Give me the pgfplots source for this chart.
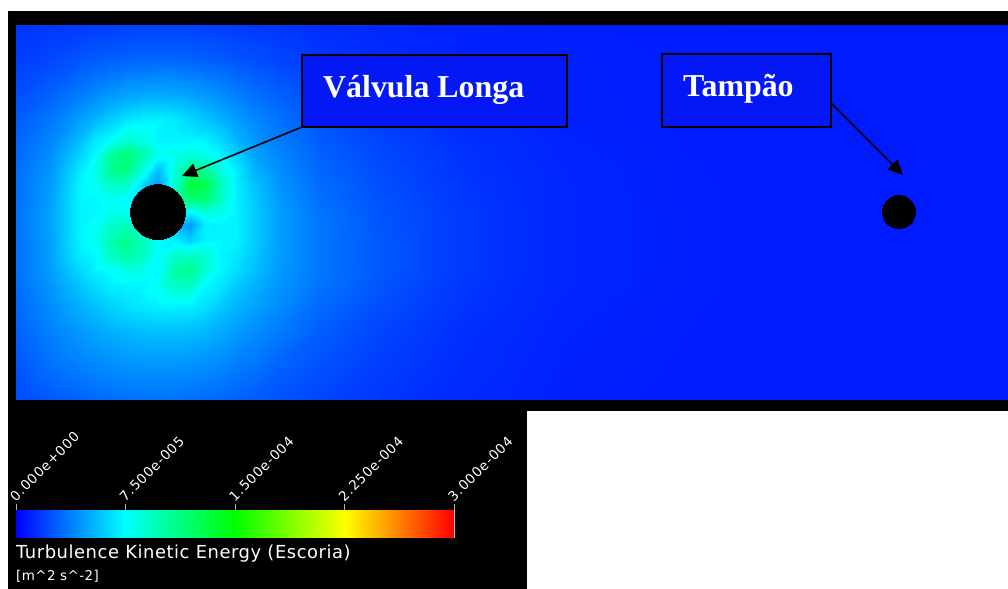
\documentclass[border=0pt]{standalone}
\usepackage{fontspec}
\setmainfont{Liberation Serif}
\newfontfamily\cbfont[LetterSpace=3]{DejaVu Sans}
\newfontfamily\cbtick[LetterSpace=6]{DejaVu Sans}
\usepackage{pgfplots}
\pgfplotsset{compat=1.18}
\usetikzlibrary{arrows.meta}
\pgfplotsset{colormap={ansys}{rgb255(0)=(0,0,255) rgb255(1)=(0,255,255) rgb255(2)=(0,255,0) rgb255(3)=(255,255,0) rgb255(4)=(255,0,0)}}
\definecolor{boxblue}{RGB}{4,24,245}
\begin{document}
\begin{tikzpicture}
\path[use as bounding box, fill=white] (0,0) rectangle (1008bp,-589bp);
\fill[black] (8bp,-11bp) rectangle (1008bp,-411bp);
\fill[black] (8bp,-411bp) rectangle (527bp,-589bp);
\begin{axis}[at={(16bp,-399bp)}, anchor=south west, scale only axis,
  width=992bp, height=374bp, xmin=16, xmax=1008, ymin=25, ymax=399,
  y dir=reverse, hide axis, clip=false, colormap name=ansys,
  point meta min=0, point meta max=3]
\addplot[surf, shader=interp, mesh/cols=23, point meta=explicit] coordinates {
(16,25)[0.15] (50,25)[0.16] (80,25)[0.17] (95,25)[0.18] (110,25)[0.18] (125,25)[0.19] (140,25)[0.19] (158,25)[0.19] (175,25)[0.19] (190,25)[0.19] (205,25)[0.18] (220,25)[0.18] (235,25)[0.17] (255,25)[0.16] (280,25)[0.15] (320,25)[0.13] (380,25)[0.11] (460,25)[0.095] (560,25)[0.088] (680,25)[0.082] (800,25)[0.078] (900,25)[0.076] (1008,25)[0.076]
(16,60)[0.18] (50,60)[0.21] (80,60)[0.25] (95,60)[0.27] (110,60)[0.28] (125,60)[0.29] (140,60)[0.3] (158,60)[0.3] (175,60)[0.3] (190,60)[0.29] (205,60)[0.28] (220,60)[0.27] (235,60)[0.25] (255,60)[0.23] (280,60)[0.2] (320,60)[0.16] (380,60)[0.125] (460,60)[0.1] (560,60)[0.092] (680,60)[0.085] (800,60)[0.08] (900,60)[0.077] (1008,60)[0.077]
(16,95)[0.23] (50,95)[0.29] (80,95)[0.37] (95,95)[0.41] (110,95)[0.45] (125,95)[0.48] (140,95)[0.5] (158,95)[0.51] (175,95)[0.5] (190,95)[0.48] (205,95)[0.45] (220,95)[0.42] (235,95)[0.38] (255,95)[0.33] (280,95)[0.28] (320,95)[0.21] (380,95)[0.15] (460,95)[0.11] (560,95)[0.094] (680,95)[0.085] (800,95)[0.08] (900,95)[0.077] (1008,95)[0.077]
(16,120)[0.27] (50,120)[0.35] (80,120)[0.47] (95,120)[0.54] (110,120)[0.61] (125,120)[0.67] (140,120)[0.71] (158,120)[0.72] (175,120)[0.69] (190,120)[0.64] (205,120)[0.58] (220,120)[0.53] (235,120)[0.47] (255,120)[0.4] (280,120)[0.33] (320,120)[0.25] (380,120)[0.17] (460,120)[0.12] (560,120)[0.096] (680,120)[0.085] (800,120)[0.08] (900,120)[0.077] (1008,120)[0.077]
(16,140)[0.29] (50,140)[0.39] (80,140)[0.56] (95,140)[0.69] (110,140)[0.75] (125,140)[0.89] (140,140)[0.84] (158,140)[0.72] (175,140)[0.72] (190,140)[0.72] (205,140)[0.71] (220,140)[0.64] (235,140)[0.54] (255,140)[0.44] (280,140)[0.36] (320,140)[0.27] (380,140)[0.2] (460,140)[0.14] (560,140)[0.1] (680,140)[0.086] (800,140)[0.08] (900,140)[0.077] (1008,140)[0.077]
(16,155)[0.31] (50,155)[0.42] (80,155)[0.63] (95,155)[0.74] (110,155)[1.03] (125,155)[1.15] (140,155)[1.02] (158,155)[0.79] (175,155)[0.82] (190,155)[0.86] (205,155)[0.8] (220,155)[0.72] (235,155)[0.62] (255,155)[0.48] (280,155)[0.39] (320,155)[0.29] (380,155)[0.21] (460,155)[0.15] (560,155)[0.104] (680,155)[0.087] (800,155)[0.08] (900,155)[0.078] (1008,155)[0.078]
(16,170)[0.32] (50,170)[0.44] (80,170)[0.69] (95,170)[0.81] (110,170)[1.06] (125,170)[1.14] (140,170)[0.9] (158,170)[0.56] (175,170)[0.87] (190,170)[1.14] (205,170)[1.07] (220,170)[0.85] (235,170)[0.71] (255,170)[0.52] (280,170)[0.41] (320,170)[0.3] (380,170)[0.22] (460,170)[0.15] (560,170)[0.108] (680,170)[0.088] (800,170)[0.08] (900,170)[0.078] (1008,170)[0.078]
(16,185)[0.33] (50,185)[0.46] (80,185)[0.72] (95,185)[0.77] (110,185)[0.89] (125,185)[0.91] (140,185)[0.68] (158,185)[0.45] (175,185)[0.89] (190,185)[1.335] (205,185)[1.28] (220,185)[0.97] (235,185)[0.72] (255,185)[0.57] (280,185)[0.43] (320,185)[0.32] (380,185)[0.23] (460,185)[0.16] (560,185)[0.11] (680,185)[0.089] (800,185)[0.08] (900,185)[0.078] (1008,185)[0.078]
(16,200)[0.33] (50,200)[0.47] (80,200)[0.72] (95,200)[0.73] (110,200)[0.78] (125,200)[0.75] (140,200)[0.72] (158,200)[0.7] (175,200)[0.92] (190,200)[1.14] (205,200)[1.15] (220,200)[0.94] (235,200)[0.72] (255,200)[0.59] (280,200)[0.45] (320,200)[0.33] (380,200)[0.24] (460,200)[0.16] (560,200)[0.11] (680,200)[0.09] (800,200)[0.08] (900,200)[0.078] (1008,200)[0.078]
(16,212)[0.33] (50,212)[0.48] (80,212)[0.72] (95,212)[0.73] (110,212)[0.8] (125,212)[0.79] (140,212)[0.72] (158,212)[0.7] (175,212)[0.77] (190,212)[0.73] (205,212)[0.87] (220,212)[0.83] (235,212)[0.72] (255,212)[0.6] (280,212)[0.46] (320,212)[0.34] (380,212)[0.25] (460,212)[0.17] (560,212)[0.11] (680,212)[0.09] (800,212)[0.08] (900,212)[0.078] (1008,212)[0.078]
(16,225)[0.33] (50,225)[0.48] (80,225)[0.72] (95,225)[0.77] (110,225)[0.9] (125,225)[0.95] (140,225)[0.85] (158,225)[0.7] (175,225)[0.55] (190,225)[0.45] (205,225)[0.7] (220,225)[0.72] (235,225)[0.72] (255,225)[0.6] (280,225)[0.46] (320,225)[0.35] (380,225)[0.25] (460,225)[0.17] (560,225)[0.11] (680,225)[0.09] (800,225)[0.08] (900,225)[0.078] (1008,225)[0.078]
(16,240)[0.33] (50,240)[0.47] (80,240)[0.72] (95,240)[0.79] (110,240)[0.98] (125,240)[1.1] (140,240)[0.97] (158,240)[0.76] (175,240)[0.7] (190,240)[0.6] (205,240)[0.72] (220,240)[0.72] (235,240)[0.72] (255,240)[0.6] (280,240)[0.46] (320,240)[0.35] (380,240)[0.26] (460,240)[0.17] (560,240)[0.11] (680,240)[0.09] (800,240)[0.08] (900,240)[0.078] (1008,240)[0.078]
(16,255)[0.33] (50,255)[0.47] (80,255)[0.7] (95,255)[0.73] (110,255)[0.92] (125,255)[1.01] (140,255)[0.97] (158,255)[0.74] (175,255)[0.92] (190,255)[0.93] (205,255)[0.87] (220,255)[0.72] (235,255)[0.69] (255,255)[0.58] (280,255)[0.46] (320,255)[0.35] (380,255)[0.26] (460,255)[0.17] (560,255)[0.11] (680,255)[0.09] (800,255)[0.08] (900,255)[0.078] (1008,255)[0.078]
(16,270)[0.33] (50,270)[0.46] (80,270)[0.64] (95,270)[0.72] (110,270)[0.74] (125,270)[0.83] (140,270)[0.84] (158,270)[0.74] (175,270)[1.03] (190,270)[1.07] (205,270)[0.9] (220,270)[0.72] (235,270)[0.66] (255,270)[0.56] (280,270)[0.45] (320,270)[0.35] (380,270)[0.26] (460,270)[0.17] (560,270)[0.11] (680,270)[0.09] (800,270)[0.08] (900,270)[0.078] (1008,270)[0.078]
(16,285)[0.32] (50,285)[0.44] (80,285)[0.58] (95,285)[0.65] (110,285)[0.71] (125,285)[0.72] (140,285)[0.72] (158,285)[0.79] (175,285)[0.93] (190,285)[0.94] (205,285)[0.73] (220,285)[0.69] (235,285)[0.6] (255,285)[0.52] (280,285)[0.44] (320,285)[0.34] (380,285)[0.25] (460,285)[0.16] (560,285)[0.11] (680,285)[0.09] (800,285)[0.08] (900,285)[0.078] (1008,285)[0.078]
(16,305)[0.3] (50,305)[0.41] (80,305)[0.52] (95,305)[0.57] (110,305)[0.62] (125,305)[0.66] (140,305)[0.69] (158,305)[0.71] (175,305)[0.72] (190,305)[0.71] (205,305)[0.67] (220,305)[0.6] (235,305)[0.54] (255,305)[0.48] (280,305)[0.41] (320,305)[0.31] (380,305)[0.23] (460,305)[0.155] (560,305)[0.105] (680,305)[0.088] (800,305)[0.08] (900,305)[0.078] (1008,305)[0.078]
(16,330)[0.29] (50,330)[0.38] (80,330)[0.45] (95,330)[0.49] (110,330)[0.52] (125,330)[0.54] (140,330)[0.56] (158,330)[0.57] (175,330)[0.57] (190,330)[0.56] (205,330)[0.54] (220,330)[0.51] (235,330)[0.47] (255,330)[0.42] (280,330)[0.36] (320,330)[0.28] (380,330)[0.2] (460,330)[0.14] (560,330)[0.1] (680,330)[0.087] (800,330)[0.08] (900,330)[0.078] (1008,330)[0.078]
(16,365)[0.25] (50,365)[0.33] (80,365)[0.38] (95,365)[0.4] (110,365)[0.42] (125,365)[0.43] (140,365)[0.44] (158,365)[0.44] (175,365)[0.44] (190,365)[0.43] (205,365)[0.42] (220,365)[0.4] (235,365)[0.37] (255,365)[0.34] (280,365)[0.29] (320,365)[0.24] (380,365)[0.18] (460,365)[0.13] (560,365)[0.097] (680,365)[0.085] (800,365)[0.08] (900,365)[0.077] (1008,365)[0.077]
(16,399)[0.21] (50,399)[0.26] (80,399)[0.29] (95,399)[0.31] (110,399)[0.32] (125,399)[0.33] (140,399)[0.34] (158,399)[0.34] (175,399)[0.34] (190,399)[0.33] (205,399)[0.32] (220,399)[0.31] (235,399)[0.29] (255,399)[0.27] (280,399)[0.24] (320,399)[0.2] (380,399)[0.16] (460,399)[0.12] (560,399)[0.093] (680,399)[0.083] (800,399)[0.078] (900,399)[0.076] (1008,399)[0.076]
};
\addplot[only marks, mark=*, mark size=27.5bp, black, mark options={fill=black, draw=black, line width=0pt}] coordinates {(158,212)};
\addplot[only marks, mark=*, mark size=16.5bp, black, mark options={fill=black, draw=black, line width=0pt}] coordinates {(899,212)};
\draw[fill=boxblue, line width=1.6bp] (axis cs:302,55) rectangle (axis cs:567,127);
\node[anchor=base west, text=white, font=\bfseries\fontsize{32}{32}\selectfont, inner sep=0pt] at (axis cs:323,97) {Válvula Longa};
\draw[fill=boxblue, line width=1.6bp] (axis cs:662,54) rectangle (axis cs:831,127);
\node[anchor=base west, text=white, font=\bfseries\fontsize{32}{32}\selectfont, inner sep=0pt] at (axis cs:683,96) {Tampão};
\draw[-{Triangle[length=15bp,width=14bp]}, line width=1.6bp] (axis cs:302,127) -- (axis cs:182,176);
\draw[-{Triangle[length=15bp,width=14bp]}, line width=1.6bp] (axis cs:831,103) -- (axis cs:903,175);
\end{axis}
\begin{axis}[at={(16bp,-537bp)}, anchor=south west, scale only axis,
  width=438bp, height=27bp, xmin=0, xmax=3, ymin=0, ymax=1,
  colormap name=ansys, point meta min=0, point meta max=3,
  axis line style={draw=gray!55, line width=1bp},
  xtick={0,0.75,1.5,2.25,3},
  xticklabels={0.000e+000,7.500e-005,1.500e-004,2.250e-004,3.000e-004},
  xtick pos=right, xticklabel pos=right, xtick align=outside,
  major tick length=6bp, ytick=\empty,
  tick style={draw=gray!60, line width=1bp},
  xticklabel style={rotate=45, anchor=south west, text=white,
    font=\cbtick\fontsize{13.5}{13.5}\selectfont, inner sep=1bp}]
\addplot[surf, shader=interp, mesh/cols=5, point meta=explicit] coordinates {
(0,0)[0] (0.75,0)[0.75] (1.5,0)[1.5] (2.25,0)[2.25] (3,0)[3]
(0,1)[0] (0.75,1)[0.75] (1.5,1)[1.5] (2.25,1)[2.25] (3,1)[3]
};
\end{axis}
\node[anchor=base west, inner sep=0pt, text=white, font=\cbfont\fontsize{18}{18}\selectfont] at (16bp,-558bp) {Turbulence Kinetic Energy (Escoria)};
\node[anchor=base west, inner sep=0pt, text=white, font=\cbfont\fontsize{13.5}{13.5}\selectfont] at (16bp,-580bp) {[m\textasciicircum 2 s\textasciicircum -2]};
\end{tikzpicture}
\end{document}
